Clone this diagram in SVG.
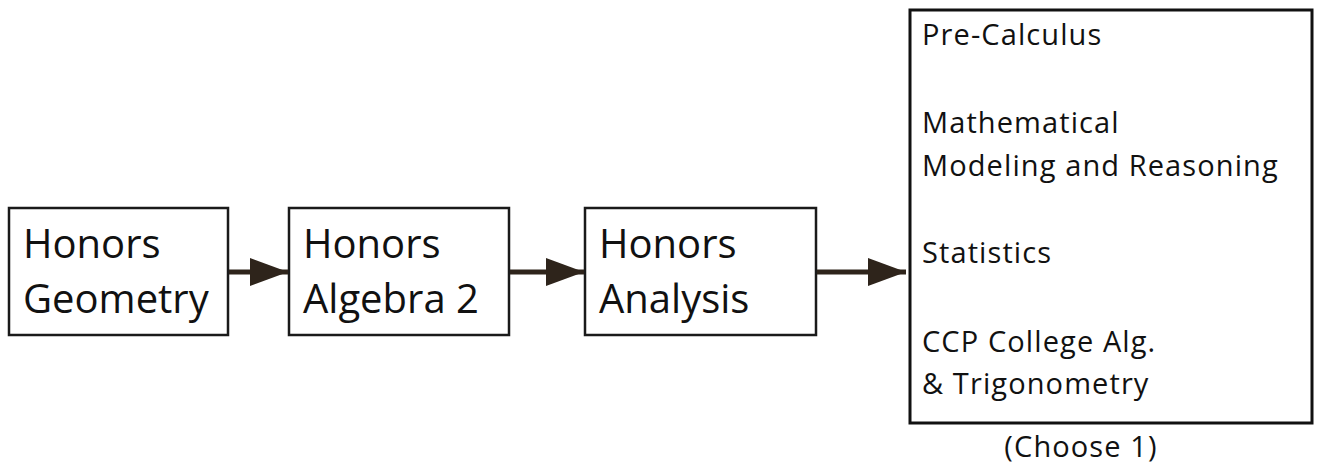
<svg xmlns="http://www.w3.org/2000/svg" width="1319" height="464" viewBox="0 0 1319 464">
<style>
.box{fill:#fff;stroke:#1a1a1a;stroke-width:2.5}
.big{font-family:"Open Sans","Liberation Sans",sans-serif;font-size:40px;fill:#111}
.sm{font-family:"Open Sans","Liberation Sans",sans-serif;font-size:29px;letter-spacing:1.1px;fill:#111}
.conn{stroke:#2e241b;stroke-width:5;fill:none}
</style>
<defs>
<marker id="ah" viewBox="0 0 38 28" refX="38" refY="14" markerWidth="38" markerHeight="28" markerUnits="userSpaceOnUse" orient="auto">
<path d="M0,0 L38,14 L0,28 z" fill="#2e241b"/>
</marker>
</defs>
<rect width="1319" height="464" fill="#fff"/>
<g id="n1"><rect class="box" x="9" y="208" width="219" height="127"/>
<text class="big" x="23" y="258">Honors</text><text class="big" x="23" y="313">Geometry</text></g>
<g id="n2"><rect class="box" x="289" y="208" width="220" height="127"/>
<text class="big" x="303" y="258">Honors</text><text class="big" x="303" y="313">Algebra 2</text></g>
<g id="n3"><rect class="box" x="585" y="208" width="231" height="127"/>
<text class="big" x="599" y="258">Honors</text><text class="big" x="599" y="313">Analysis</text></g>
<g id="n4"><rect x="910" y="10" width="402" height="413" fill="#fff" stroke="#111" stroke-width="3"/>
<text class="sm" x="922" y="45">Pre-Calculus</text>
<text class="sm" x="922" y="133">Mathematical</text>
<text class="sm" x="922" y="176">Modeling and Reasoning</text>
<text class="sm" x="922" y="263">Statistics</text>
<text class="sm" x="922" y="352">CCP College Alg.</text>
<text class="sm" x="922" y="394">&amp; Trigonometry</text></g>
<g id="label"><text class="sm" x="1081" y="457" text-anchor="middle">(Choose 1)</text></g>
<g id="connectors">
<line class="conn" x1="229" y1="272" x2="288" y2="272" marker-end="url(#ah)"/>
<line class="conn" x1="510" y1="272" x2="584" y2="272" marker-end="url(#ah)"/>
<line class="conn" x1="817" y1="272" x2="906" y2="272" marker-end="url(#ah)"/>
</g>
</svg>
